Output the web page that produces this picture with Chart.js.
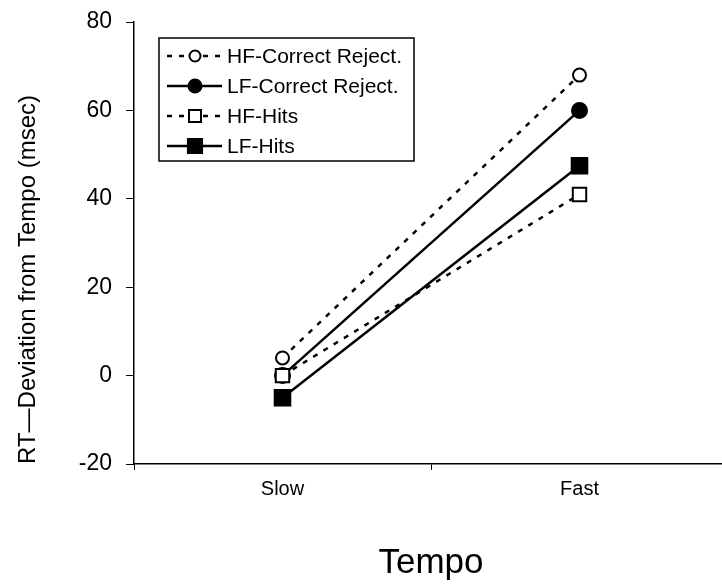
<!DOCTYPE html>
<html>
<head>
<meta charset="utf-8">
<script src="https://cdn.jsdelivr.net/npm/chart.js@4/dist/chart.umd.min.js"></script>
<style>
  html, body { margin:0; padding:0; background:#fff; overflow:hidden; }
  #wrap { width:722px; height:586px; overflow:hidden; }
</style>
</head>
<body>
<div id="wrap"><canvas id="rtChart" width="730" height="586"></canvas></div>
<script>
// ── DATA ─────────────────────────────────────────────────
const tempos      = ['Slow', 'Fast'];
const hfCorrRej   = [4, 68];
const lfCorrRej   = [0, 60];
const hfHits      = [0, 41];
const lfHits      = [-5, 47.5];
const yTicks      = [-20, 0, 20, 40, 60, 80];

const FONT = "'Liberation Sans', Arial, sans-serif";
const DASH = [5, 7];

function series(label, data, opts) {
  return Object.assign({
    label, data,
    borderColor: '#000',
    borderWidth: 2.5,
    pointBorderColor: '#000',
    pointBorderWidth: 2,
    tension: 0,
    fill: false
  }, opts);
}

// ── LEGEND IN A BOX (drawn on the canvas) ────────────────
const boxLegend = {
  id: 'boxLegend',
  afterDraw(chart) {
    const ctx = chart.ctx;
    const x0 = 159, y0 = 38, w = 255, h = 123;
    ctx.save();
    ctx.strokeStyle = '#000';
    ctx.lineWidth = 1.5;
    ctx.strokeRect(x0, y0, w, h);
    ctx.font = '21px ' + FONT;
    ctx.textBaseline = 'middle';
    ctx.fillStyle = '#000';
    chart.data.datasets.forEach((ds, i) => {
      const y = 56 + i * 30;
      ctx.setLineDash(ds.borderDash || []);
      ctx.lineWidth = 2.5;
      ctx.beginPath();
      ctx.moveTo(167, y);
      ctx.lineTo(222, y);
      ctx.stroke();
      ctx.setLineDash([]);
      const r = ds.pointRadius - 1;
      ctx.beginPath();
      if (ds.pointStyle === 'rect') {
        const s = r * Math.SQRT1_2;
        ctx.rect(195 - s, y - s, 2 * s, 2 * s);
      } else {
        ctx.arc(195, y, r, 0, Math.PI * 2);
      }
      ctx.fillStyle = ds.pointBackgroundColor;
      ctx.fill();
      ctx.lineWidth = 2;
      ctx.stroke();
      ctx.fillStyle = '#000';
      ctx.fillText(ds.label, 227, y + 1);
    });
    ctx.restore();
  }
};

// ── CHART ────────────────────────────────────────────────
const ctx = document.getElementById('rtChart').getContext('2d');
new Chart(ctx, {
  type: 'line',
  data: {
    labels: tempos,
    datasets: [
      series('HF-Correct Reject.', hfCorrRej, { borderDash: DASH, pointStyle: 'circle', pointRadius: 6.5, pointBackgroundColor: '#fff', order: 1 }),
      series('LF-Correct Reject.', lfCorrRej, { pointStyle: 'circle', pointRadius: 7.5, pointBackgroundColor: '#000', order: 3 }),
      series('HF-Hits', hfHits, { borderDash: DASH, pointStyle: 'rect', pointRadius: 9.5, pointBackgroundColor: '#fff', order: 0 }),
      series('LF-Hits', lfHits, { pointStyle: 'rect', pointRadius: 11, pointBackgroundColor: '#000', order: 2 })
    ]
  },
  options: {
    responsive: false,
    animation: false,
    layout: { autoPadding: false, padding: { top: 10, right: 2, left: 0, bottom: 0 } },
    plugins: {
      legend: { display: false },
      tooltip: { enabled: false }
    },
    scales: {
      x: {
        offset: true,
        afterFit: s => { s.height = 122; s.paddingLeft = 0; s.paddingRight = 0; },
        border: { color: '#000', width: 1.5 },
        grid: { offset: true, drawOnChartArea: false, drawTicks: true, tickLength: 6, color: '#000' },
        ticks: { color: '#000', font: { family: FONT, size: 20 }, padding: 7 },
        title: { display: true, text: 'Tempo', color: '#000', font: { family: FONT, size: 35 }, padding: { top: 0, bottom: 2 } }
      },
      y: {
        min: -20,
        max: 80,
        afterFit: s => { s.width = 134; },
        afterBuildTicks: s => { s.ticks = yTicks.map(v => ({ value: v })); },
        border: { color: '#000', width: 1.5 },
        grid: { drawOnChartArea: false, drawTicks: true, tickLength: 8, color: '#000' },
        ticks: { color: '#000', font: { family: FONT, size: 23, lineHeight: 0.7 }, padding: 14 },
        title: { display: true, align: 'start', text: 'RT\u2014Deviation from Tempo (msec)', color: '#000', font: { family: FONT, size: 24 }, padding: { top: 14, bottom: 0 } }
      }
    }
  },
  plugins: [boxLegend]
});
</script>
</body>
</html>
